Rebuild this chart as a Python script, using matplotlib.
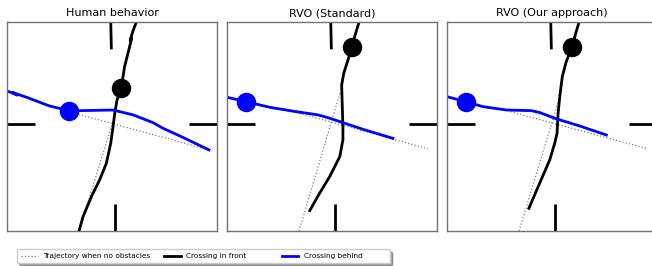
import matplotlib
matplotlib.use("Agg")
import matplotlib.pyplot as plt
from matplotlib.lines import Line2D

titles = ["Human behavior", "RVO (Standard)", "RVO (Our approach)"]

# Front-crossing agent (black) trajectories
front_x = [
    [-1.60, -1.57, -1.38, -0.98, -0.59, -0.27, -0.06, 0.05, 0.13, 0.24, 0.44, 0.60, 0.84, 0.94, 0.86, 1.00, 1.16, 1.20],
    [-1.06, -0.59, -0.11, 0.37, 0.52, 0.52, 0.48, 0.46, 0.56, 0.76, 0.95, 1.08, 1.29, 1.33],
    [-1.10, -0.59, -0.11, 0.13, 0.24, 0.29, 0.37, 0.49, 0.68, 0.95, 1.13, 1.29, 1.33],
]
front_y = [
    [-5.10, -4.97, -4.29, -3.33, -2.54, -1.75, -0.79, 0.00, 0.63, 1.27, 1.83, 2.86, 3.81, 4.21, 4.10, 4.56, 4.98, 5.10],
    [-4.00, -3.17, -2.38, -1.43, -0.63, 0.00, 1.27, 1.98, 2.54, 3.17, 3.78, 4.29, 4.98, 5.10],
    [-3.89, -2.70, -1.59, -0.79, -0.32, 0.63, 1.43, 2.38, 3.10, 3.78, 4.44, 4.98, 5.10],
]
front_pos = [(0.44, 1.83), (0.95, 3.78), (0.95, 3.78)]

# Behind-crossing agent (blue) trajectories
behind_x = [
    [-5.10, -4.50, -4.75, -4.08, -2.97, -2.05, -1.54, 0.05, 1.00, 1.95, 2.43, 3.22, 4.62],
    [-5.10, -4.11, -2.97, -1.70, -0.67, -0.11, 0.52, 1.48, 2.90],
    [-5.10, -4.11, -3.29, -2.17, -0.98, -0.59, 0.21, 1.32, 2.59],
]
behind_y = [
    [1.74, 1.50, 1.63, 1.40, 0.98, 0.76, 0.76, 0.79, 0.56, 0.19, -0.08, -0.44, -1.11],
    [1.42, 1.19, 0.92, 0.71, 0.56, 0.40, 0.19, -0.13, -0.56],
    [1.45, 1.19, 0.95, 0.79, 0.76, 0.67, 0.37, 0.03, -0.40],
]
behind_pos = [(-2.05, 0.76), (-4.11, 1.19), (-4.11, 1.19)]

# Straight trajectories without obstacles
free_front_x = [[-1.57, 0.24], [-1.57, 0.40], [-1.57, 0.37]]
free_front_y = [[-4.97, 0.87], [-4.97, 1.67], [-4.97, 1.43]]
free_behind_x = [[-2.05, 4.62], [-1.70, 4.57], [-1.98, 4.57]]
free_behind_y = [[0.71, -1.11], [0.68, -1.06], [0.71, -1.06]]

# Corridor wall markers
wall_x = [[-0.06, -0.03], [0.16, 0.16], [-5.0, -3.68], [3.67, 5.0]]
wall_y = [[4.98, 3.68], [-3.70, -4.97], [0.13, 0.13], [0.13, 0.13]]

fig = plt.figure(figsize=(6.52, 2.66), dpi=100)
lefts = [7 / 652, 227 / 652, 447 / 652]
for i in range(3):
    ax = fig.add_axes([lefts[i], 35 / 266, 210 / 652, 209 / 266])
    for wx, wy in zip(wall_x, wall_y):
        ax.plot(wx, wy, color="black", lw=2.0, solid_capstyle="butt")
    ax.plot(free_front_x[i], free_front_y[i], color="gray", lw=0.9, ls=":")
    ax.plot(free_behind_x[i], free_behind_y[i], color="gray", lw=0.9, ls=":")
    ax.plot(front_x[i], front_y[i], color="black", lw=2.0)
    ax.plot(behind_x[i], behind_y[i], color="blue", lw=2.0)
    ax.plot(*front_pos[i], "o", color="black", ms=13)
    ax.plot(*behind_pos[i], "o", color="blue", ms=13)
    ax.set_xlim(-5, 5)
    ax.set_ylim(-4.97, 4.98)
    ax.set_xticks([])
    ax.set_yticks([])
    for s in ax.spines.values():
        s.set_color("0.45")
        s.set_linewidth(1.0)
    ax.set_title(titles[i], fontsize=8, pad=4)

handles = [
    Line2D([], [], color="gray", lw=0.9, ls=":"),
    Line2D([], [], color="black", lw=2.0),
    Line2D([], [], color="blue", lw=2.0),
]
labels = ["Trajectory when no obstacles", "Crossing in front" + " " * 9, "Crossing behind" + " " * 10]
fig.legend(handles, labels, ncol=3, fontsize=5.3, loc="lower left",
           bbox_to_anchor=(17 / 652, 3 / 266), frameon=True, shadow=True,
           handlelength=2.3, handletextpad=0.7, columnspacing=1.9,
           borderpad=0.5, borderaxespad=0.0)

fig.savefig("out.png", dpi=100)
